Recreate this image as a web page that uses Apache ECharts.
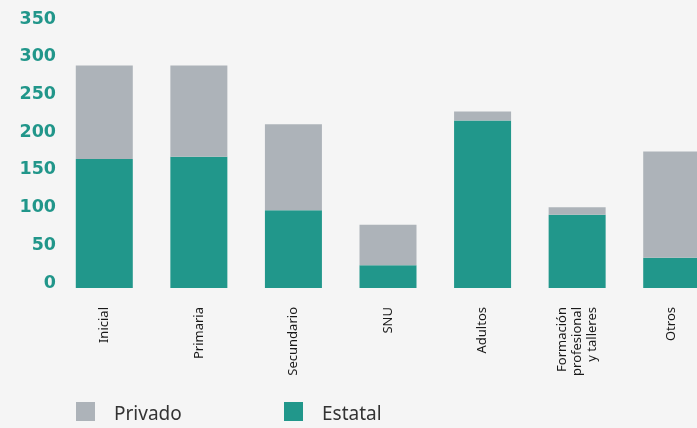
<!DOCTYPE html>
<html>
<head>
<meta charset="utf-8">
<script src="https://cdn.jsdelivr.net/npm/echarts@6/dist/echarts.min.js"></script>
<style>
html,body{margin:0;padding:0;background:#f5f5f5;overflow:hidden;width:697px;height:428px;}
#chart{width:719px;height:428px;}
</style>
</head>
<body>
<div id="chart"></div>
<script>
const categories = ['Inicial', 'Primaria', 'Secundario', 'SNU', 'Adultos', 'Formación\nprofesional\ny talleres', 'Otros'];
const estatal = [171, 174, 103, 30, 222, 97, 40];
const privado = [124, 121, 114, 54, 12, 10, 141];
const yTicks = [0, 50, 100, 150, 200, 250, 300, 350];

const TEAL = '#21978b';
const GRAY = '#adb3b9';

const legendText = {
  fontFamily: 'Noto Sans', fontSize: 19, color: '#333', padding: [0, 0, 0, 14],
  rich: {t: {fontFamily: 'Noto Sans', fontSize: 19, color: '#333', padding: [6, 0, 0, 0]}}
};

const chart = echarts.init(document.getElementById('chart'), null, {renderer: 'canvas'});
chart.setOption({
  backgroundColor: '#f5f5f5',
  animation: false,
  grid: {left: 57, right: 0, top: 24, bottom: 140, containLabel: false},
  legend: [
    {
      data: ['Privado'], left: 76, top: 402, padding: 0, itemWidth: 19, itemHeight: 19, icon: 'rect',
      formatter: '{t|{name}}', textStyle: legendText
    },
    {
      data: ['Estatal'], left: 284, top: 402, padding: 0, itemWidth: 19, itemHeight: 19, icon: 'rect',
      formatter: '{t|{name}}', textStyle: legendText
    }
  ],
  xAxis: {
    type: 'category',
    data: categories,
    axisLine: {show: false},
    axisTick: {show: false},
    axisLabel: {
      rotate: 90, interval: 0, margin: 19,
      fontFamily: 'Noto Sans', fontSize: 13, color: '#1a1a1a', lineHeight: 15
    }
  },
  yAxis: {
    type: 'value',
    min: yTicks[0], max: yTicks[yTicks.length - 1], interval: 50,
    splitLine: {show: false},
    axisLine: {show: false},
    axisTick: {show: false},
    axisLabel: {
      margin: 1, fontFamily: 'DejaVu Sans', fontWeight: 'bold', fontSize: 17.5,
      color: '#21968a', verticalAlign: 'bottom', lineHeight: 10
    }
  },
  series: [
    {name: 'Estatal', type: 'bar', stack: 'total', data: estatal, barWidth: 57, itemStyle: {color: TEAL}},
    {name: 'Privado', type: 'bar', stack: 'total', data: privado, barWidth: 57, itemStyle: {color: GRAY}}
  ]
});
</script>
</body>
</html>
